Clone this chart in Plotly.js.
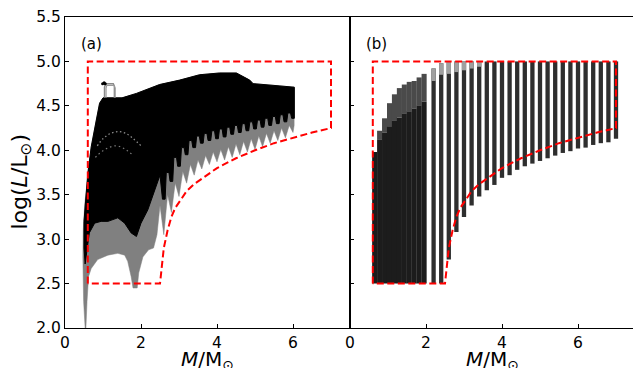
<!DOCTYPE html>
<html><head><meta charset="utf-8">
<script src="https://cdn.plot.ly/plotly-3.0.1.min.js"></script>
<style>html,body{margin:0;padding:0;overflow:hidden;background:#fff}</style>
</head><body><div id="chart" style="width:635px;height:368px"></div>
<script>
// ---------------- data ----------------
// red dashed selection boundary (same in both panels)
const boundM = [0.6, 0.6, 7.0, 7.0, 6.5, 6.0, 5.5, 5.0, 4.5, 4.0, 3.65, 3.4, 3.2, 3.0, 2.9, 2.8, 2.7, 2.6, 2.55, 2.5, 0.6];
const boundL = [2.5, 5.0, 5.0, 4.25, 4.20, 4.14, 4.08, 4.00, 3.91, 3.80, 3.70, 3.62, 3.54, 3.42, 3.35, 3.25, 3.10, 2.90, 2.72, 2.5, 2.5];

// panel (a): envelope of the evolutionary tracks
const topEdgeM = [0.60, 0.69, 0.82, 0.91, 1.00, 1.50, 1.88, 2.49, 3.02, 3.54, 4.07, 4.51, 4.86, 4.95, 5.50, 6.00];
const topEdgeL = [3.74, 4.04, 4.34, 4.53, 4.59, 4.59, 4.64, 4.74, 4.79, 4.85, 4.87, 4.87, 4.79, 4.75, 4.73, 4.71];
const greyLeftM = [0.53, 0.49, 0.47, 0.48, 0.52];
const greyLeftL = [2.00, 2.30, 2.80, 3.10, 3.40];
const greyBottomM = [2.50, 2.42, 2.33, 2.20, 2.05, 1.94, 1.90, 1.79, 1.74, 1.65, 1.57, 1.39, 1.13, 0.86, 0.69, 0.62, 0.58, 0.55];
const greyBottomL = [3.38, 3.05, 2.90, 2.88, 2.80, 2.62, 2.45, 2.45, 2.58, 2.75, 2.82, 2.84, 2.82, 2.77, 2.67, 2.58, 2.30, 2.00];
const blackLeftM = [0.53, 0.50, 0.50, 0.54];
const blackLeftL = [2.72, 2.90, 3.20, 3.45];
const blackBottomM = [2.50, 2.40, 2.31, 2.18, 2.00, 1.88, 1.74, 1.57, 1.39, 1.13, 0.95, 0.78, 0.64, 0.55];
const blackBottomL = [3.72, 3.60, 3.50, 3.33, 3.18, 3.03, 3.07, 3.18, 3.24, 3.20, 3.20, 3.18, 3.07, 2.80];
// tooth pattern of the higher-mass tracks
const teethMass  = [2.6, 2.8, 3.0, 3.2, 3.4, 3.6, 3.8, 4.0, 4.2, 4.4, 4.6, 4.8, 5.0, 5.2, 5.4, 5.6, 5.8, 6.0];
const greyTip    = [3.05, 3.30, 3.48, 3.63, 3.72, 3.79, 3.84, 3.87, 3.89, 3.92, 3.95, 3.98, 4.01, 4.04, 4.08, 4.11, 4.14, 4.20];
const greyNotch  = [3.50, 3.63, 3.76, 3.84, 3.89, 3.94, 3.98, 4.01, 4.04, 4.07, 4.10, 4.13, 4.16, 4.19, 4.22, 4.25, 4.28];
const blackTooth = [3.45, 3.65, 3.82, 3.95, 4.03, 4.08, 4.11, 4.13, 4.15, 4.18, 4.20, 4.22, 4.24, 4.26, 4.28, 4.30, 4.32, 4.36];
const blackNotch = [3.75, 3.92, 4.03, 4.11, 4.16, 4.19, 4.22, 4.24, 4.26, 4.28, 4.30, 4.32, 4.34, 4.36, 4.38, 4.40, 4.42];
// grey speckle arcs inside the black region
const speck1M = [0.85, 1.00, 1.20, 1.40, 1.60, 1.80, 2.00];
const speck1L = [4.05, 4.13, 4.19, 4.21, 4.19, 4.13, 4.05];
const speck2M = [0.80, 0.95, 1.15, 1.35, 1.55, 1.75];
const speck2L = [3.92, 3.98, 4.03, 4.05, 4.02, 3.96];
// small grey loop near the top-left
const loop1M = [1.04, 1.04, 1.07, 1.27, 1.30, 1.30];
const loop1L = [4.59, 4.71, 4.75, 4.75, 4.72, 4.59];
const loop2M = [1.08, 1.08, 1.10, 1.29, 1.32, 1.32];
const loop2L = [4.59, 4.70, 4.73, 4.73, 4.70, 4.59];
const dotM = [0.99, 1.03, 1.06];
const dotL = [4.75, 4.76, 4.75];

// panel (b): grid columns
const barMass = [2.2, 2.4, 2.6, 2.8, 3.0, 3.2, 3.4, 3.6, 3.8, 4.0, 4.2, 4.4, 4.6, 4.8, 5.0, 5.2, 5.4, 5.6, 5.8, 6.0, 6.2, 6.4, 6.6, 6.8, 7.0];
const barLow  = [2.50, 2.50, 2.77, 3.08, 3.25, 3.38, 3.48, 3.55, 3.61, 3.69, 3.72, 3.78, 3.82, 3.85, 3.88, 3.91, 3.94, 3.97, 3.99, 4.02, 4.03, 4.06, 4.08, 4.09, 4.13];
const barTop  = [4.92, 4.98, 5.00, 5.00, 5.00, 5.00, 5.00, 5.00, 5.00, 5.00, 5.00, 5.00, 5.00, 5.00, 5.00, 5.00, 5.00, 5.00, 5.00, 5.00, 5.00, 5.00, 5.00, 5.00, 5.00];
const capMass = [2.2, 2.4, 2.6, 2.8, 3.0, 3.2, 3.4];
const capLow  = [4.78, 4.85, 4.86, 4.88, 4.90, 4.92, 4.94];
const lowMass = [0.65, 0.78, 0.91, 1.04, 1.17, 1.30, 1.43, 1.56, 1.69, 1.82, 1.95];
const lowTop  = [3.98, 4.22, 4.36, 4.53, 4.63, 4.70, 4.74, 4.77, 4.78, 4.82, 4.86];
const lowDark = [3.98, 4.12, 4.20, 4.27, 4.33, 4.37, 4.41, 4.44, 4.47, 4.50, 4.55];
const tickVals = [0, 2, 4, 6];
const xTitle = '<i>M</i>/M<sub>⊙</sub>';
const yTitle = 'log(<i>L</i>/L<sub>⊙</sub>)';

// ---------------- build shapes from the data ----------------
function greyPolygon() {
  const x = [], y = [];
  greyLeftM.forEach((m, i) => { x.push(m); y.push(greyLeftL[i]); });
  topEdgeM.forEach((m, i) => { x.push(m); y.push(topEdgeL[i]); });
  const n = teethMass.length;
  x.push(teethMass[n - 1] + 0.03); y.push(topEdgeL[topEdgeL.length - 1]);
  x.push(teethMass[n - 1] + 0.03); y.push(greyTip[n - 1] + 0.08);
  x.push(teethMass[n - 1]); y.push(greyTip[n - 1]);
  for (let i = n - 1; i >= 1; i--) {
    const nt = greyNotch[i - 1];
    x.push(teethMass[i] - 0.06); y.push(greyTip[i] + 0.6 * (nt - greyTip[i]));
    x.push(teethMass[i] - 0.1); y.push(nt);
    x.push(teethMass[i - 1] + 0.06); y.push(greyTip[i - 1] + 0.6 * (nt - greyTip[i - 1]));
    x.push(teethMass[i - 1]); y.push(greyTip[i - 1]);
  }
  greyBottomM.forEach((m, i) => { x.push(m); y.push(greyBottomL[i]); });
  x.push(greyLeftM[0]); y.push(greyLeftL[0]);
  return {x, y};
}
function blackPolygon() {
  const x = [], y = [];
  blackLeftM.forEach((m, i) => { x.push(m); y.push(blackLeftL[i]); });
  topEdgeM.forEach((m, i) => { x.push(m); y.push(topEdgeL[i]); });
  const n = teethMass.length;
  x.push(teethMass[n - 1] + 0.035); y.push(topEdgeL[topEdgeL.length - 1]);
  for (let i = n - 1; i >= 0; i--) {
    x.push(teethMass[i] + 0.035); y.push(blackTooth[i]);
    x.push(teethMass[i] - 0.035); y.push(blackTooth[i]);
    if (i > 0) {
      x.push(teethMass[i] - 0.065); y.push(blackNotch[i - 1]);
      x.push(teethMass[i - 1] + 0.065); y.push(blackNotch[i - 1]);
    }
  }
  blackBottomM.forEach((m, i) => { x.push(m); y.push(blackBottomL[i]); });
  x.push(blackLeftM[0]); y.push(blackLeftL[0]);
  return {x, y};
}
function segments(ms, lo, hi) {
  const x = [], y = [];
  ms.forEach((m, i) => { x.push(m, m, null); y.push(lo[i], hi[i], null); });
  return {x, y};
}

const gp = greyPolygon(), bp = blackPolygon();
const redLine = {color: '#ff0000', width: 2, dash: '7px,3.5px'};
const traces = [
  {x: gp.x, y: gp.y, xaxis: 'x', yaxis: 'y', mode: 'lines', fill: 'toself', fillcolor: '#808080', line: {color: '#808080', width: 0.5}},
  {x: bp.x, y: bp.y, xaxis: 'x', yaxis: 'y', mode: 'lines', fill: 'toself', fillcolor: '#000000', line: {color: '#000000', width: 1}},
  {x: speck1M, y: speck1L, xaxis: 'x', yaxis: 'y', mode: 'lines', line: {color: '#8c8c8c', width: 1.3, dash: '1.5px,2.5px', shape: 'spline'}},
  {x: speck2M, y: speck2L, xaxis: 'x', yaxis: 'y', mode: 'lines', line: {color: '#7a7a7a', width: 1.2, dash: '1.5px,3px', shape: 'spline'}},
  {x: loop1M, y: loop1L, xaxis: 'x', yaxis: 'y', mode: 'lines', line: {color: '#8a8a8a', width: 1.5}},
  {x: loop2M, y: loop2L, xaxis: 'x', yaxis: 'y', mode: 'lines', line: {color: '#9a9a9a', width: 1.2}},
  {x: dotM, y: dotL, xaxis: 'x', yaxis: 'y', mode: 'markers', marker: {color: '#000', size: 3}},
  {x: boundM, y: boundL, xaxis: 'x', yaxis: 'y', mode: 'lines', line: redLine},
];
const sDark = segments(lowMass, lowMass.map(() => 2.5), lowDark);
const sMid = segments(lowMass, lowDark, lowTop);
const sBar = segments(barMass, barLow, barTop);
const sCap = segments(capMass, capLow, barTop.slice(0, capMass.length));
traces.push(
  {x: sMid.x, y: sMid.y, xaxis: 'x2', yaxis: 'y2', mode: 'lines', line: {color: '#4a4a4a', width: 5.1}},
  {x: sDark.x, y: sDark.y, xaxis: 'x2', yaxis: 'y2', mode: 'lines', line: {color: '#1c1c1c', width: 5.1}},
  {x: sBar.x, y: sBar.y, xaxis: 'x2', yaxis: 'y2', mode: 'lines', line: {color: '#2e2e2e', width: 4.3}},
  {x: sCap.x, y: sCap.y, xaxis: 'x2', yaxis: 'y2', mode: 'lines', line: {color: '#a0a0a0', width: 4.3}},
  {x: boundM, y: boundL, xaxis: 'x2', yaxis: 'y2', mode: 'lines', line: redLine}
);

const axBase = {
  range: [0, 7.5], tickvals: tickVals, ticktext: tickVals.map(String),
  ticks: 'inside', ticklen: 4, tickwidth: 1, tickcolor: '#000',
  showline: true, linecolor: '#000', linewidth: 1, mirror: true,
  showgrid: false, zeroline: false, fixedrange: true,
  tickfont: {size: 15.5}
};
const yBase = {
  range: [2.0, 5.5], dtick: 0.5, tick0: 2.0, tickformat: '.1f',
  ticks: 'inside', ticklen: 4, tickwidth: 1, tickcolor: '#000',
  showline: true, linecolor: '#000', linewidth: 1, mirror: true,
  showgrid: false, zeroline: false, fixedrange: true,
  tickfont: {size: 15.5}
};
const layout = {
  width: 635, height: 368,
  margin: {l: 65, r: 0, t: 17, b: 40, pad: 0},
  paper_bgcolor: '#fff', plot_bgcolor: '#fff',
  showlegend: false,
  font: {family: 'DejaVu Sans, sans-serif', size: 15.5, color: '#000'},
  xaxis: Object.assign({}, axBase, {domain: [0, 0.5], anchor: 'y'}),
  xaxis2: Object.assign({}, axBase, {domain: [0.5, 1], anchor: 'y2'}),
  yaxis: Object.assign({}, yBase, {domain: [0, 1], anchor: 'x'}),
  yaxis2: Object.assign({}, yBase, {domain: [0, 1], anchor: 'x2', showticklabels: false}),
  annotations: [
    {text: '(a)', xref: 'x', yref: 'y', x: 0.38, y: 5.2, xanchor: 'left', yanchor: 'middle', showarrow: false, font: {size: 15}},
    {text: '(b)', xref: 'x2', yref: 'y2', x: 0.38, y: 5.2, xanchor: 'left', yanchor: 'middle', showarrow: false, font: {size: 15}},
    {text: xTitle, xref: 'x domain', yref: 'paper', x: 0.5, y: -0.056, xanchor: 'center', yanchor: 'top', showarrow: false, font: {size: 20}},
    {text: xTitle, xref: 'x2 domain', yref: 'paper', x: 0.5, y: -0.056, xanchor: 'center', yanchor: 'top', showarrow: false, font: {size: 20}},
    {text: yTitle, xref: 'paper', yref: 'paper', x: -0.076, y: 0.47, xanchor: 'center', yanchor: 'middle', textangle: -90, showarrow: false, font: {size: 22}}
  ]
};
Plotly.newPlot('chart', traces, layout, {displayModeBar: false, staticPlot: true});
</script></body></html>
